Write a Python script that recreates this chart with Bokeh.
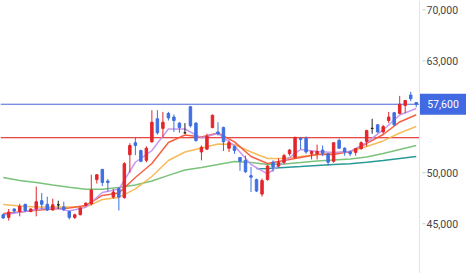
from bokeh.plotting import figure
from bokeh.models import Range1d, Span, ColumnDataSource
from bokeh.core.properties import value
from bokeh.embed import file_html
from bokeh.resources import INLINE

# ---- daily candles (KRW) ----
opens = [45850, 45600, 46400, 46150, 46850, 46150, 46400, 47200, 46850, 46300,
         46800, 46600, 46150, 45600, 45850, 46750, 46900, 49300, 50350, 49150,
         47550, 48400, 47500, 51900, 53200, 52350, 51300, 53300, 55900, 54800,
         56500, 56100, 55400, 54300, 57300, 55400, 52200, 52500, 54900, 54400,
         54900, 52600, 52800, 51600, 51300, 49700, 49300, 47850, 49300, 51100,
         50700, 51100, 52000, 51600, 53700, 53700, 52000, 52000, 52400, 52000,
         51200, 53450, 52600, 52200, 52150, 52550, 53350, 54800, 55200, 54400,
         55700, 56600, 56500, 57450, 58700, 57800]
highs = [45950, 46400, 46450, 46900, 46900, 46450, 48600, 47950, 47600, 47400,
         47200, 47100, 46250, 45950, 46550, 47050, 49800, 49850, 50400, 49350,
         48350, 48550, 51100, 53150, 53750, 52450, 52800, 56900, 56900, 56700,
         56700, 56400, 55500, 55400, 57400, 55500, 52900, 54200, 56400, 55500,
         55000, 53450, 52900, 51650, 51800, 50600, 49400, 49400, 50800, 51300,
         51500, 52000, 52500, 53850, 53750, 53900, 52350, 53000, 52900, 52050,
         53250, 53650, 52700, 52350, 52600, 53350, 54650, 55900, 55300, 55200,
         56700, 56700, 58600, 58100, 59100, 57850]
lows = [45450, 45300, 46000, 45700, 46100, 46100, 45700, 46400, 46200, 46250,
        46400, 46200, 45400, 45450, 45800, 46650, 46750, 48900, 48650, 48100,
        47400, 46250, 47400, 50000, 51850, 51100, 51100, 53200, 54100, 53800,
        55700, 54400, 54300, 54200, 54900, 53300, 51300, 52400, 54800, 54000,
        52300, 52200, 52000, 50200, 50000, 48050, 48050, 47600, 49200, 50100,
        50600, 50900, 51800, 51500, 52500, 52000, 51400, 51400, 51750, 50750,
        51050, 52550, 51800, 51750, 51800, 52450, 52800, 54200, 54300, 54200,
        55400, 55100, 56450, 56550, 57950, 57250]
closes = [45550, 46100, 46200, 46650, 46250, 46400, 47100, 46850, 46300, 46800,
          46800, 46350, 45600, 45850, 46500, 46950, 48250, 49800, 49000, 49000,
          48050, 47550, 50950, 52900, 52900, 51200, 52600, 55500, 54300, 55500,
          56000, 55700, 54900, 54300, 55100, 53450, 52700, 53900, 56300, 54200,
          53300, 53200, 52350, 51200, 50100, 49550, 48150, 49200, 50700, 50600,
          51100, 51800, 52400, 53800, 53550, 52200, 52250, 52250, 52050, 51100,
          53200, 52600, 52200, 52000, 52550, 53200, 54550, 54800, 54400, 55000,
          56100, 55200, 57600, 58050, 58250, 57600]

# ---- moving averages ----
ma_idx = [0, 3, 6, 9, 12, 15, 18, 21, 24, 27, 30, 33, 36, 39, 42, 45, 48, 51,
          54, 57, 60, 63, 66, 69, 72, 75]
ma_purple = [45830, 46090, 46350, 46540, 46200, 46570, 48010, 48340, 51100, 52350,
             54730, 54730, 53730, 54230, 52850, 50860, 49880, 51180, 52460, 52240,
             52140, 52240, 53230, 54620, 56340, 57100]
ma_red = [45970, 46120, 46270, 46400, 46490, 46740, 47720, 47960, 49520, 50970,
          53230, 54060, 53830, 54280, 53290, 51710, 50970, 51280, 51610, 51930,
          51930, 52240, 53120, 54110, 55530, 56360]
ma_orange = [46830, 46690, 46590, 46590, 46590, 46590, 47320, 47520, 48360, 49620,
             51280, 52190, 52630, 53070, 53010, 52190, 51490, 51490, 51710, 51930,
             52080, 52240, 52790, 53400, 54280, 55020]
ma_green = [49520, 49210, 49010, 48760, 48530, 48340, 48330, 48510, 48760, 49160,
            49730, 50290, 50550, 50860, 51180, 51070, 50860, 50920, 51070, 51230,
            51330, 51440, 51660, 52030, 52460, 52900]
teal_idx = [46, 48, 51, 54, 57, 60, 63, 66, 69, 72, 75]
ma_teal = [50420, 50450, 50550, 50640, 50760, 50860, 50940, 51100, 51280, 51490, 51710]

y_ticks = [45000, 50000, 63000, 70000]
y_tick_labels = ["45,000", "50,000", "63,000", "70,000"]
current_price = 57600
current_label = "57,600"
ref_price = 53750

UP, DOWN, FLAT = "#e3262b", "#3f6fe0", "#222222"

n = len(opens)
xs = list(range(n))
colors = [UP if c > o else (DOWN if c < o else FLAT) for o, c in zip(opens, closes)]
src = ColumnDataSource(dict(
    x=xs, top=[max(o, c) for o, c in zip(opens, closes)],
    bottom=[min(o, c) for o, c in zip(opens, closes)],
    high=highs, low=lows, color=colors))

# layout: price pane 0..419 px, price scale 419..466 px (drawn inside one frame)
W, H = 466, 273
PX = 5.507            # px per trading day
X0 = -0.49            # data x at left edge


def xd(px):
    return X0 + px / PX


X_AXIS = xd(419)

p = figure(frame_width=W, frame_height=H, output_backend="svg", toolbar_location=None,
           y_axis_type="log", x_axis_location=None, y_axis_location=None,
           x_range=Range1d(X0, xd(W)), y_range=Range1d(40613, 71357),
           min_border_left=0, min_border_right=0, min_border_top=0, min_border_bottom=0)
p.outline_line_color = None
p.grid.visible = False
p.background_fill_color = "white"
p.border_fill_color = "white"

# price-scale line, ticks and labels
p.add_layout(Span(location=X_AXIS, dimension="height", line_color="#e4e4e4", line_width=1))
p.segment(x0=[xd(422)] * len(y_ticks), y0=y_ticks, x1=[xd(425)] * len(y_ticks), y1=y_ticks,
          line_color="#c8c8c8", line_width=1)
p.text(x=[xd(426)] * len(y_ticks), y=y_ticks, text=y_tick_labels,
       text_font=value("Roboto"), text_font_size="10.5px", text_color="#444444",
       text_baseline="middle", text_align="left")

# reference lines
p.segment(x0=[X0], y0=[ref_price], x1=[X_AXIS], y1=[ref_price],
          line_color="#e01010", line_width=1)
p.segment(x0=[X0], y0=[current_price], x1=[X_AXIS], y1=[current_price],
          line_color="#4a68d8", line_width=1)

# moving averages
p.line(ma_idx, ma_green, line_color="#74bf74", line_width=1.5, line_alpha=0.95)
p.line(teal_idx, ma_teal, line_color="#1c9590", line_width=1.5, line_alpha=0.95)
p.line(ma_idx, ma_orange, line_color="#f7b753", line_width=1.5, line_alpha=0.95)
p.line(ma_idx, ma_red, line_color="#f35a3c", line_width=1.5, line_alpha=0.95)
p.line(ma_idx, ma_purple, line_color="#c393f2", line_width=1.5, line_alpha=0.95)

# candles
p.segment(x0="x", y0="low", x1="x", y1="high", line_color="color", line_width=1, source=src)
p.vbar(x="x", width=0.45, top="top", bottom="bottom", fill_color="color",
       line_color="color", line_width=1, source=src)

# current price tag
tag_x = xd((419 + W) / 2)
p.rect(x=[tag_x], y=[current_price], width=W - 419, height=21,
       width_units="screen", height_units="screen",
       fill_color="#4169e1", line_color=None)
p.text(x=[tag_x], y=[current_price], text=[current_label],
       text_font=value("Roboto"), text_font_size="10.5px", text_color="white",
       text_baseline="middle", text_align="center")

open("out.html", "w").write(file_html(p, INLINE))
